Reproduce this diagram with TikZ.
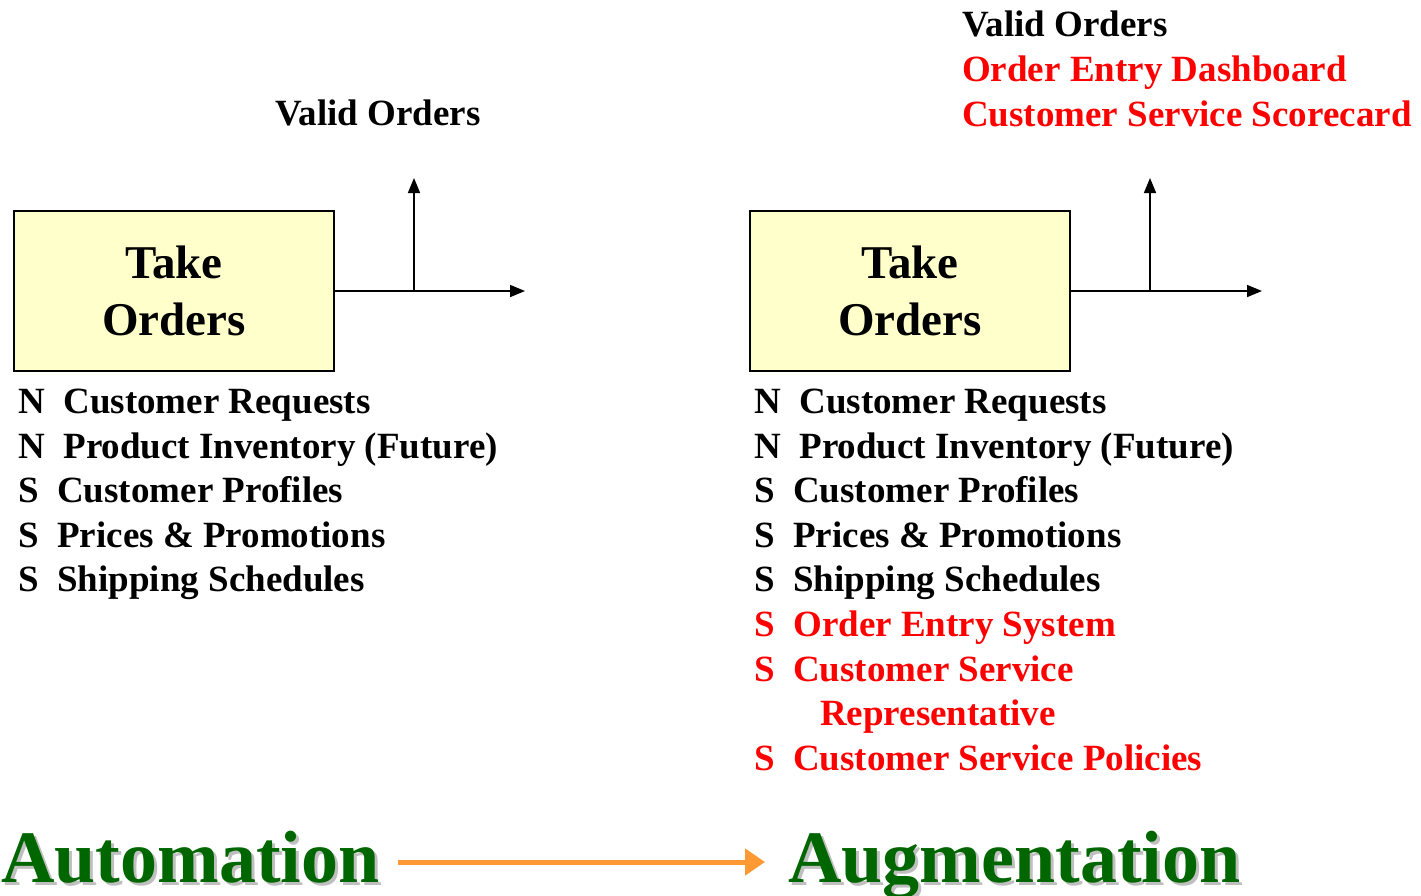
\documentclass[tikz,border=0pt]{standalone}
\usepackage{fontspec}
\setmainfont{Liberation Serif}
\usetikzlibrary{arrows.meta}
\definecolor{boxfill}{HTML}{FFFFCC}
\definecolor{newred}{HTML}{FF0000}
\definecolor{darkgreen}{HTML}{006600}
\definecolor{groworange}{HTML}{FF9933}
\tikzset{
  item/.style={anchor=base west,inner sep=0pt,font=\bfseries\fontsize{37}{44}\selectfont},
  newitem/.style={item,text=newred},
  process/.style={draw,line width=1.6pt,fill=boxfill,minimum width=320pt,minimum height=160pt,
    align=center,font=\bfseries\fontsize{47}{57}\selectfont},
  flow/.style={line width=1.6pt,-{Triangle[length=15pt,width=12pt]}},
  big/.style={anchor=base west,inner sep=0pt,text=darkgreen,font=\bfseries\fontsize{74}{80}\selectfont},
  bigshadow/.style={big,text=black!25},
  growth/.style={line width=5pt,draw=groworange,-{Triangle[length=20pt,width=26pt]}}
}
\begin{document}
\begin{tikzpicture}[x=1pt,y=-1pt]
\useasboundingbox (0,0) rectangle (1421,895);
% left: automation
\node[process] (take1) at (174,291) {Take\\Orders};
\coordinate (out1) at (525,291);
\coordinate (j1) at (414,291);
\coordinate (up1) at (414,178);
\draw[flow] (take1.east) -- (out1);
\draw[flow] (j1) -- (up1);
\node[item] (valid1) at (275,125) {Valid Orders};
\node[item] (in1a) at (18,413) {N\ \ Customer Requests};
\node[item] (in1b) at (18,458) {N\ \ Product Inventory (Future)};
\node[item] (in1c) at (18,502) {S\ \ Customer Profiles};
\node[item] (in1d) at (18,547) {S\ \ Prices \& Promotions};
\node[item] (in1e) at (18,591) {S\ \ Shipping Schedules};
% right: augmentation
\node[process] (take2) at (910,291) {Take\\Orders};
\coordinate (out2) at (1262,291);
\coordinate (j2) at (1150,291);
\coordinate (up2) at (1150,178);
\draw[flow] (take2.east) -- (out2);
\draw[flow] (j2) -- (up2);
\node[item] (valid2) at (962,36) {Valid Orders};
\node[newitem] (dash2) at (962,81) {Order Entry Dashboard};
\node[newitem] (score2) at (962,126) {Customer Service Scorecard};
\node[item] (in2a) at (754,413) {N\ \ Customer Requests};
\node[item] (in2b) at (754,458) {N\ \ Product Inventory (Future)};
\node[item] (in2c) at (754,502) {S\ \ Customer Profiles};
\node[item] (in2d) at (754,547) {S\ \ Prices \& Promotions};
\node[item] (in2e) at (754,591) {S\ \ Shipping Schedules};
\node[newitem] (in2f) at (754,636) {S\ \ Order Entry System};
\node[newitem] (in2g) at (754,681) {S\ \ Customer Service};
\node[newitem] (in2h) at (820,725) {Representative};
\node[newitem] (in2i) at (754,770) {S\ \ Customer Service Policies};
% bottom titles
\node[bigshadow] at (4,885) {Automation};
\node[big] (auto) at (1,882) {Automation};
\node[bigshadow] at (791,885) {Augmentation};
\node[big] (augm) at (788,882) {Augmentation};
\draw[growth] ([xshift=18pt,yshift=20pt]auto.base east) -- ([xshift=-23pt,yshift=20pt]augm.base west);
\end{tikzpicture}
\end{document}
